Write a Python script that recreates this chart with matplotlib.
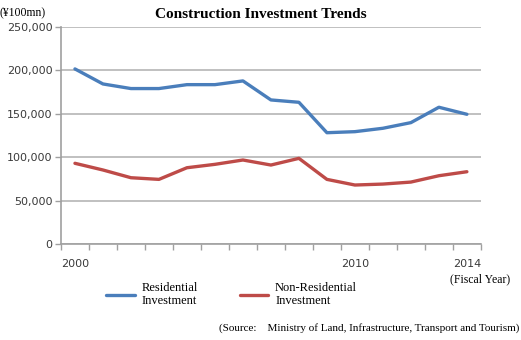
import matplotlib.pyplot as plt
import numpy as np

years = list(range(2000, 2015))
residential = [201600, 184300, 179000, 179000, 183500, 183500, 187800, 165900,
               163200, 128200, 129400, 133300, 139800, 157500, 149400]
non_residential = [93000, 85300, 76400, 74500, 87900, 91800, 96800, 91000,
                   98700, 74500, 68000, 69100, 71400, 78700, 83300]
shown_years = [2000, 2010, 2014]
yticks = [0, 50000, 100000, 150000, 200000, 250000]

serif = "Liberation Serif"
tickcol = "#3a3a3a"

fig = plt.figure(figsize=(5.21, 3.40), dpi=100)
ax = fig.add_axes([0.117, 0.282, 0.806, 0.639])

x = np.arange(len(years))
ax.plot(x, residential, color="#4a7ebb", lw=2.4, solid_capstyle="round",
        label="Residential\nInvestment")
ax.plot(x, non_residential, color="#be4b48", lw=2.4, solid_capstyle="round",
        label="Non-Residential\nInvestment")

ax.set_xlim(-0.5, len(years) - 0.5)
ax.set_ylim(0, 250000)
ax.set_yticks(yticks)
ax.set_yticklabels(["{:,}".format(v) for v in yticks], fontsize=8, color=tickcol)
ax.grid(axis="y", color="#c0c0c0", lw=1.4)
ax.set_axisbelow(True)

# category boundaries carry the tick marks, labels sit in the middle
ax.set_xticks(np.arange(len(years) + 1) - 0.5, minor=True)
ax.set_xticks([years.index(y) for y in shown_years])
ax.set_xticklabels([str(y) for y in shown_years], fontsize=8, color=tickcol)
ax.tick_params(axis="x", which="major", length=0, pad=11)
ax.tick_params(axis="x", which="minor", length=4, color="#a0a0a0", width=1)
ax.tick_params(axis="y", length=4, color="#a0a0a0", width=1, pad=2)

for s in ["top", "right"]:
    ax.spines[s].set_visible(False)
for s in ["left", "bottom"]:
    ax.spines[s].set_color("#a0a0a0")
    ax.spines[s].set_linewidth(1.2)

fig.text(0.5, 0.975, "Construction Investment Trends", ha="center", va="top",
         fontsize=11, fontweight="bold", family=serif)
fig.text(0.0, 0.978, "(\u00a5100mn)", ha="left", va="top", fontsize=8.5, family=serif)
fig.text(0.98, 0.18, "(Fiscal Year)", ha="right", va="center", fontsize=8.5, family=serif)
fig.text(0.997, 0.035, "(Source:    Ministry of Land, Infrastructure, Transport and Tourism)",
         ha="right", va="center", fontsize=8, family=serif)

fig.legend(loc="upper left", bbox_to_anchor=(0.192, 0.19), ncol=2, frameon=False,
           prop={"family": serif, "size": 9}, handlelength=2.3, handletextpad=0.55,
           columnspacing=3.3, borderpad=0, labelspacing=0)

fig.savefig("out.png", dpi=100)
